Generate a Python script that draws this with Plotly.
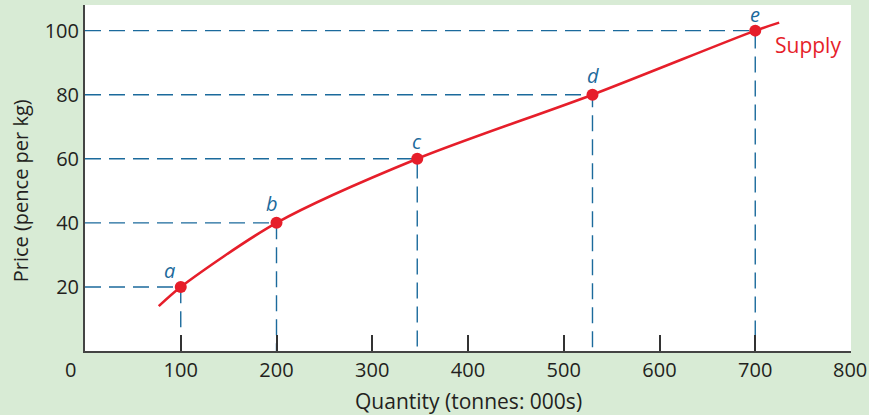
import plotly.graph_objects as go

# Data
point_labels = ["a", "b", "c", "d", "e"]
point_qty = [100, 200, 347, 530, 700]
point_price = [20, 40, 60, 80, 100]
curve_qty = [77, 100, 200, 347, 530, 700, 725]
curve_price = [14, 20, 40, 60, 80, 100, 102.5]
x_ticks = [100, 200, 300, 400, 500, 600, 700, 800]
y_ticks = [20, 40, 60, 80, 100]

BLUE = "#1b6a9c"
RED = "#e61e2a"
TXT = "#231f20"
BG = "#d8ebd5"
FONT = "Open Sans"

fig = go.Figure()

# dashed guide lines
for q, p in zip(point_qty, point_price):
    fig.add_trace(go.Scatter(x=[0, q, q], y=[p, p, 0], mode="lines",
                             line=dict(color=BLUE, width=1.4, dash="16px,8px"),
                             hoverinfo="skip", showlegend=False))

# supply curve
fig.add_trace(go.Scatter(x=curve_qty, y=curve_price, mode="lines",
                         line=dict(color=RED, width=2.6, shape="spline", smoothing=0.8),
                         showlegend=False))
fig.add_trace(go.Scatter(x=point_qty, y=point_price, mode="markers",
                         marker=dict(color=RED, size=12), showlegend=False))

offsets = {"a": (-11, 16), "b": (-5, 19), "c": (0, 17), "d": (1, 19), "e": (0, 16)}
for lab, q, p in zip(point_labels, point_qty, point_price):
    dx, dy = offsets[lab]
    fig.add_annotation(x=q, y=p, text=f"<i>{lab}</i>", showarrow=False,
                       xshift=dx, yshift=dy, font=dict(color=BLUE, size=20, family=FONT))

fig.add_annotation(x=point_qty[-1], y=point_price[-1], text="Supply", showarrow=False,
                   xanchor="left", xshift=18, yshift=-14,
                   font=dict(color=RED, size=21, family=FONT))

# origin label
fig.add_annotation(x=0, y=0, text="0", showarrow=False, xshift=-15, yshift=-18,
                   font=dict(color=TXT, size=20, family=FONT))

# last x tick label (sits at the page edge, so drawn as annotation)
fig.add_annotation(x=x_ticks[-1], y=0, text=str(x_ticks[-1]), showarrow=False,
                   xshift=-1, yshift=-18, font=dict(color=TXT, size=20, family=FONT))

# axis titles
fig.add_annotation(xref="paper", yref="paper", x=0.5, y=0, yshift=-66,
                   text="Quantity (tonnes: 000s)", showarrow=False,
                   font=dict(color=TXT, size=21, family=FONT))
fig.add_annotation(xref="paper", x=0, y=50, xshift=-80, textangle=-90,
                   text="Price (pence per kg)", showarrow=False,
                   font=dict(color=TXT, size=20, family=FONT))

fig.update_layout(
    width=869, height=415,
    margin=dict(l=85, r=18, t=5, b=64),
    paper_bgcolor=BG, plot_bgcolor="white",
    font=dict(family=FONT, color=TXT, size=20),
)
fig.update_xaxes(range=[0, 800], tickvals=x_ticks,
                 ticktext=[str(v) for v in x_ticks[:-1]] + [""],
                 ticks="inside", ticklen=16,
                 tickcolor="#333", tickwidth=1.5, showgrid=False, zeroline=False,
                 showline=True, linecolor="#444", linewidth=2,
                 tickfont=dict(size=20, color=TXT))
fig.update_yaxes(range=[0, 108], tickvals=y_ticks, ticks="", showgrid=False,
                 zeroline=False, showline=True, linecolor="#444", linewidth=2,
                 tickfont=dict(size=20, color=TXT))

fig.write_html("out.html", config={"displayModeBar": False},
               post_script="document.body.style.margin='0';document.body.style.overflow='hidden';")
